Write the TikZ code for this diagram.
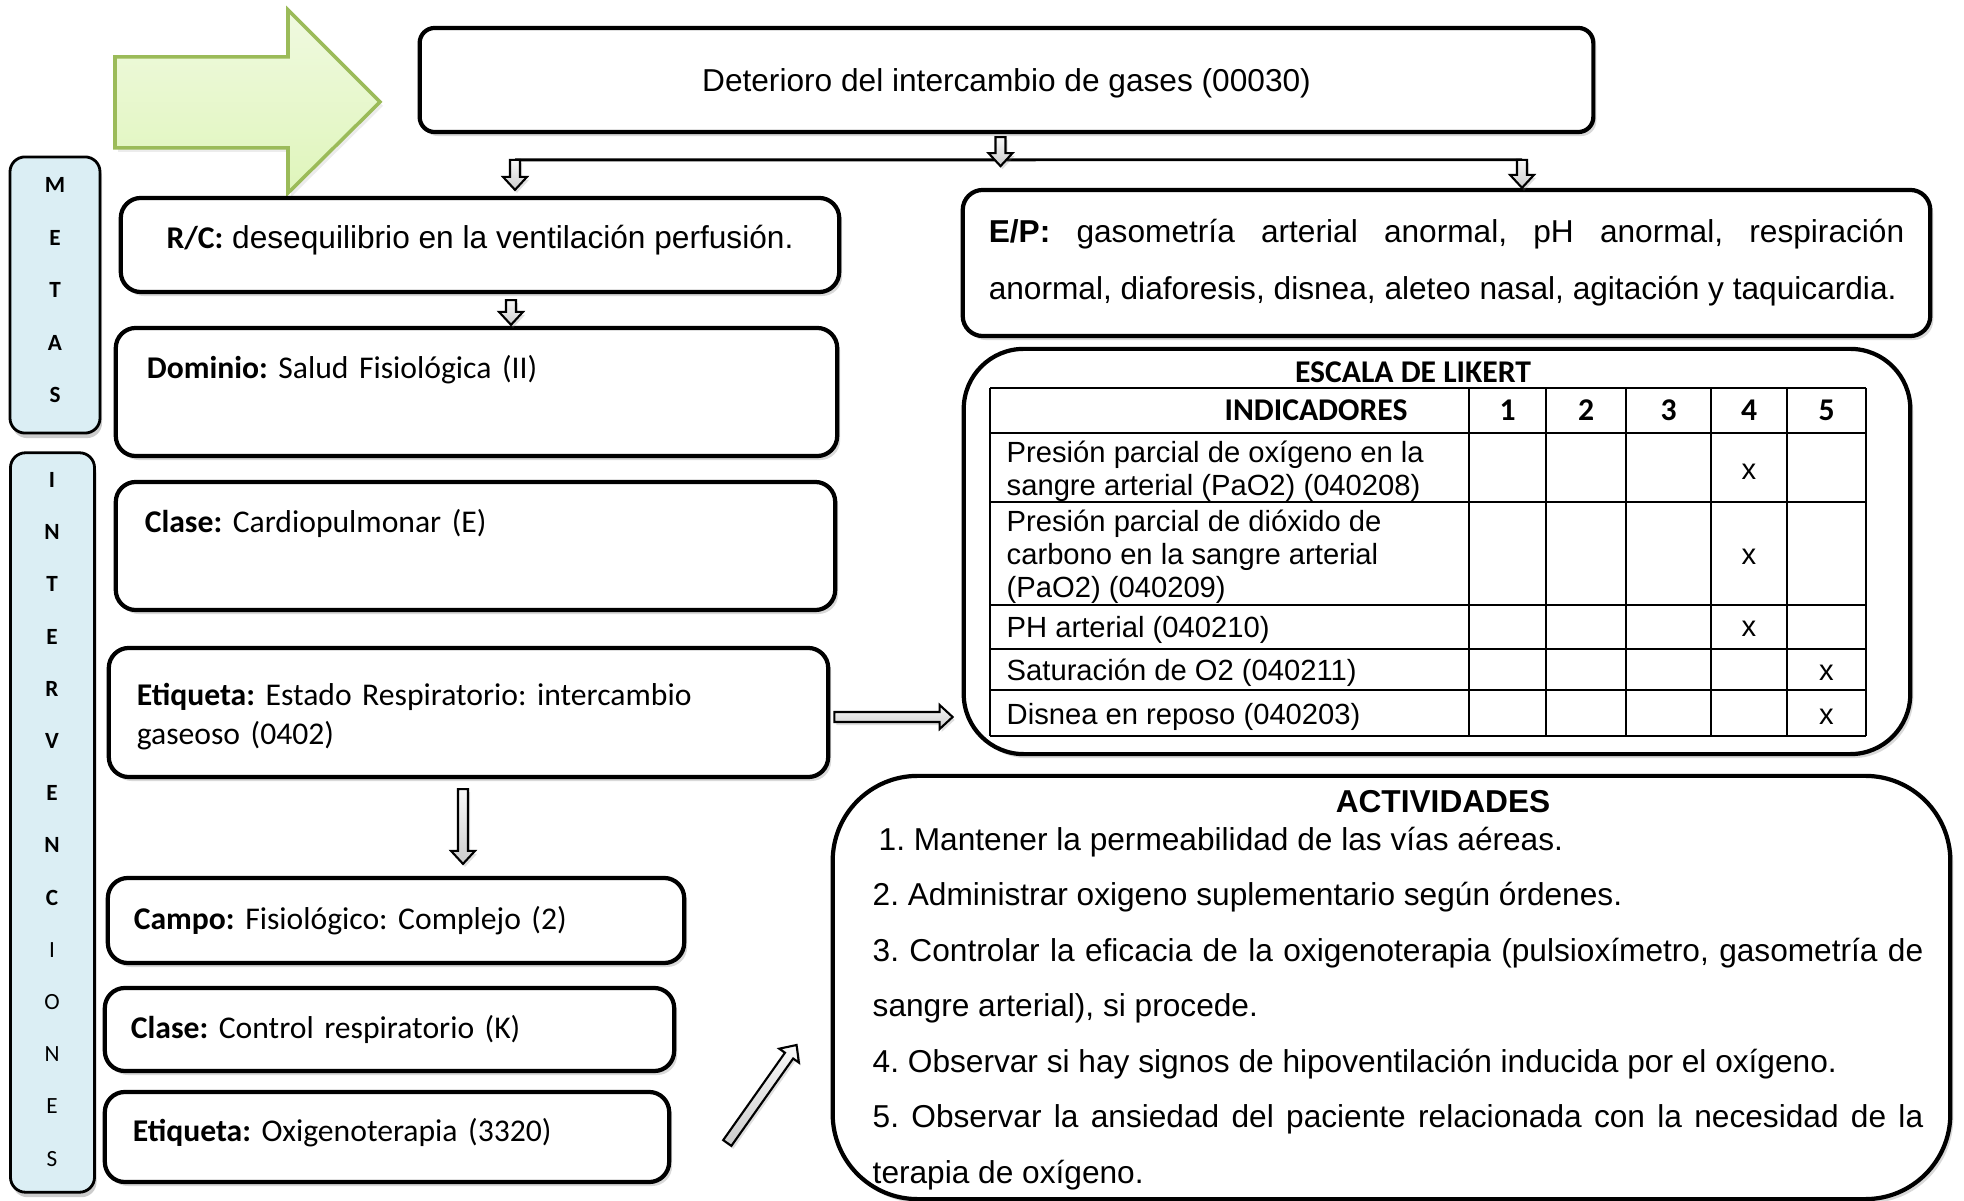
\documentclass[tikz,border=0pt]{standalone}
\usepackage{fontspec}
\setmainfont{Liberation Sans}
\newfontfamily\calibri{Carlito}
\usepackage{xcolor}
\usetikzlibrary{positioning, calc, shadows}
\setlength{\parindent}{0pt}
\frenchspacing
\hyphenpenalty=10000
\tolerance=9999

\definecolor{sideblue}{HTML}{DBEEF4}
\definecolor{greenedge}{HTML}{9BBB59}
\definecolor{greentop}{HTML}{F0FAE0}
\definecolor{greenbot}{HTML}{DFF5BB}

\newcommand{\hollowarrow}[2]{%
    \coordinate (hd) at ($(#2)!0.13cm!(#1)$);
    \draw[blockarrow] ($(#1)!0.05cm!90:(#2)$) -- ($(hd)!0.05cm!90:(#2)$) -- ($(hd)!0.12cm!90:(#2)$) -- (#2)
        -- ($(hd)!0.12cm!-90:(#2)$) -- ($(hd)!0.05cm!-90:(#2)$) -- ($(#1)!0.05cm!-90:(#2)$) -- cycle;
}

\begin{document}
\begin{tikzpicture}[x=0.01cm, y=-0.01cm,
    box/.style={draw=black, line width=1.2pt, rounded corners=0.2cm, fill=white, align=left, font=\fontsize{9}{11}\selectfont, drop shadow={shadow xshift=0.03cm, shadow yshift=-0.04cm, opacity=0.3}},
    cal/.style={font=\calibri\fontsize{9}{11}\selectfont},
    bigbox/.style={draw=black, line width=1.2pt, fill=white, drop shadow={shadow xshift=0.03cm, shadow yshift=-0.04cm, opacity=0.3}},
    sidebox/.style={draw=black, line width=0.8pt, rounded corners=0.15cm, fill=sideblue, drop shadow={shadow xshift=0.02cm, shadow yshift=-0.05cm, opacity=0.4}},
    sideletter/.style={inner sep=0pt, font=\calibri\fontsize{6.6}{8}\selectfont},
    blockarrow/.style={draw=black, line width=0.6pt, top color=gray!5, bottom color=gray!40, drop shadow={shadow xshift=0.02cm, shadow yshift=-0.03cm, opacity=0.25}},
    greenarrow/.style={draw=greenedge, line width=1pt, top color=greentop, bottom color=greenbot, drop shadow={shadow xshift=0.03cm, shadow yshift=-0.04cm, opacity=0.15}},
    tableline/.style={line width=0.7pt},
    cell/.style={anchor=west, align=left, inner sep=0pt, font=\fontsize{8.3}{9.4}\selectfont},
    colhead/.style={inner sep=0pt, font=\calibri\bfseries\fontsize{9}{11}\selectfont},
    xmark/.style={inner sep=0pt, font=\fontsize{8.3}{10}\selectfont}
]
    \useasboundingbox (0,0) rectangle (1964,1201);

    \draw[greenarrow] (115,57) -- (288,57) -- (288,10) -- (380,102) -- (288,193) -- (288,148) -- (115,148) -- cycle;

    \node[sidebox, minimum width=0.90cm, minimum height=2.76cm] (metas) at (55,295) {};
    \foreach \ltr [count=\i] in {M,E,T,A,S}
        \node[sideletter] (mt\i) at (55,{185+52.5*(\i-1)}) {\bfseries\ltr};
    \node[sidebox, minimum width=0.84cm, minimum height=7.39cm] (interv) at (52.5,822.5) {};
    \foreach \ltr [count=\i] in {I,N,T,E,R,V,E,N,C}
        \node[sideletter] (iv\i) at (52,{480+52.2*(\i-1)}) {\bfseries\ltr};
    \foreach \ltr [count=\i] in {I,O,N,E,S}
        \node[sideletter] (io\i) at (52,{949.8+52.2*(\i-1)}) {\ltr};

    \node[box, rounded corners=0.15cm, minimum width=11.73cm, minimum height=1.04cm, align=center, text depth=0pt] (title) at (1006.5,80) {Deterioro del intercambio de gases (00030)};

    \node[box, minimum width=7.18cm, minimum height=0.94cm, text depth=0.17cm] (rc) at (480,245) {{\calibri\bfseries R/C:} desequilibrio en la ventilación perfusión.};
    \node[box, cal, minimum width=7.21cm, minimum height=1.28cm, text width=6.59cm, inner xsep=0.31cm, text depth=0.5cm] (dominio) at (476.5,392) {\textbf{Dominio:} Salud Fisiológica (II)};
    \node[box, cal, minimum width=7.19cm, minimum height=1.28cm, text width=6.61cm, inner xsep=0.29cm, text depth=0.5cm] (clase) at (475.5,546) {\textbf{Clase:} Cardiopulmonar (E)};
    \node[box, cal, minimum width=7.19cm, minimum height=1.29cm, text width=6.63cm, inner xsep=0.28cm, text depth=0.36cm] (etiqueta) at (468.5,712.5) {\textbf{Etiqueta:} Estado Respiratorio: intercambio\\gaseoso (0402)};
    \node[box, cal, minimum width=5.76cm, minimum height=0.85cm, text width=5.24cm, inner xsep=0.26cm] (campo) at (396,920.5) {\textbf{Campo:} Fisiológico: Complejo (2)};
    \node[box, cal, minimum width=5.69cm, minimum height=0.83cm, text width=5.17cm, inner xsep=0.26cm] (control) at (389.5,1029.5) {\textbf{Clase:} Control respiratorio (K)};
    \node[box, cal, minimum width=5.64cm, minimum height=0.90cm, text width=5.08cm, inner xsep=0.28cm, text depth=0.15cm] (oxigeno) at (387,1137) {\textbf{Etiqueta:} Oxigenoterapia (3320)};

    \node[box, minimum width=9.67cm, minimum height=1.46cm, text width=9.15cm, inner xsep=0.26cm, align=justify, font=\fontsize{9}{16.2}\selectfont] (ep) at (1446.5,263) {\textbf{E/P:} gasometría arterial anormal, pH anormal, respiración anormal, diaforesis, disnea, aleteo nasal, agitación y taquicardia.};

    \node[bigbox, rounded corners=0.6cm, minimum width=9.46cm, minimum height=4.05cm] (likert) at (1437,551.5) {};
    \node[colhead] (escala) at (1413,372) {ESCALA DE LIKERT};
    \foreach \x in {990,1469,1546,1626,1711,1787,1866}
        \draw[tableline] (\x,388) -- (\x,736);
    \foreach \y in {388,433,502,605,649,690,736}
        \draw[tableline] (990,\y) -- (1866,\y);
    \node[colhead] (indic) at (1316,410.5) {INDICADORES};
    \foreach \n/\x in {1/1507.5,2/1586,3/1668.5,4/1749,5/1826.5}
        \node[colhead] (col\n) at (\x,410.5) {\n};
    \node[cell] (ind1) at (1006,471) {Presión parcial de oxígeno en la\\sangre arterial (PaO2) (040208)};
    \node[cell] (ind2) at (1006,557) {Presión parcial de dióxido de\\carbono en la sangre arterial\\(PaO2) (040209)};
    \node[cell] (ind3) at (1006,630) {PH arterial (040210)};
    \node[cell] (ind4) at (1006,673) {Saturación de O2 (040211)};
    \node[cell] (ind5) at (1006,717) {Disnea en reposo (040203)};
    \foreach \x/\y [count=\i] in {1749/472,1749/557,1749/629,1826.5/673,1826.5/717}
        \node[xmark] (x\i) at (\x,\y) {x};

    \node[bigbox, rounded corners=0.85cm, minimum width=11.17cm, minimum height=4.23cm] (act) at (1391.5,987.5) {};
    \node[inner sep=0pt, font=\bfseries\fontsize{9}{11}\selectfont] (acttitle) at (1443,802) {ACTIVIDADES};
    \node[anchor=north west, inner sep=0pt, text width=10.5cm, align=justify, font=\fontsize{9}{15.8}\selectfont] (actlist) at (872,826) {%
        \hspace*{0.06cm}1. Mantener la permeabilidad de las vías aéreas.\par
        2. Administrar oxigeno suplementario según órdenes.\par
        3. Controlar la eficacia de la oxigenoterapia (pulsioxímetro, gasometría de sangre arterial), si procede.\par
        4. Observar si hay signos de hipoventilación inducida por el oxígeno.\par
        5.\ Observar la ansiedad del paciente relacionada con la necesidad de la terapia de oxígeno.};

    \coordinate (a1) at ($(title.south)+(-6,3)$);
    \coordinate (a2) at ($(title.south)+(-6,32)$);
    \coordinate (brL) at ($(rc.north)+(35,-36)$);
    \coordinate (brR) at ($(ep.north)+(75.5,-28)$);
    \coordinate (rcin) at ($(rc.north)+(35,-6)$);
    \coordinate (epin) at ($(ep.north)+(75.5,0)$);
    \coordinate (d1) at ($(rc.south)+(31,6)$);
    \coordinate (d2) at ($(dominio.north)+(34.5,-1)$);
    \coordinate (e1) at ($(etiqueta.east)+(4,4.5)$);
    \coordinate (e2) at ($(likert.west |- e1)+(-9,0)$);
    \coordinate (c1) at ($(etiqueta.south)+(-5.5,10)$);
    \coordinate (c2) at ($(c1 |- campo.north)+(0,-12)$);
    \coordinate (g1) at ($(oxigeno.east)+(56,6)$);
    \coordinate (g2) at ($(act.west)+(-34,57.5)$);

    \draw[line width=0.8pt] (brL) -- (brR);
    \hollowarrow{a1}{a2}
    \hollowarrow{brL}{rcin}
    \hollowarrow{brR}{epin}
    \hollowarrow{d1}{d2}
    \hollowarrow{e1}{e2}
    \hollowarrow{c1}{c2}
    \hollowarrow{g1}{g2}
\end{tikzpicture}
\end{document}
